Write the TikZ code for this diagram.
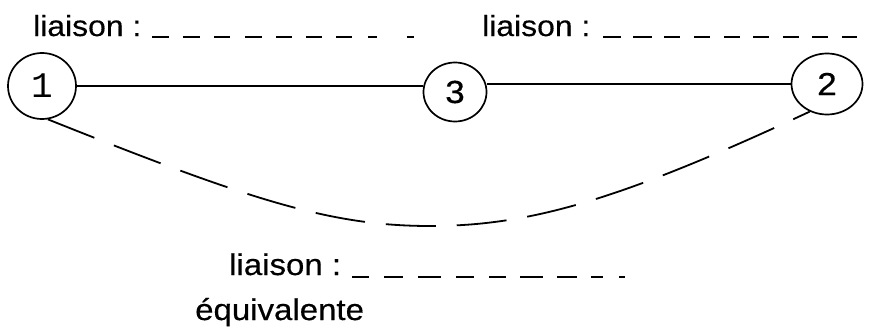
\documentclass[tikz,border=0pt]{standalone}
\usepackage{fontspec}
\setmainfont{Liberation Sans}[FakeStretch=1.1,FakeBold=0.4]
\newfontfamily\monodigit{Liberation Mono}
\usetikzlibrary{shapes.geometric}
\begin{document}
\begin{tikzpicture}[x=1pt,y=-1pt,
  part/.style={ellipse,draw,line width=1.7pt,inner sep=0pt,font=\fontsize{32}{34}\selectfont},
  link/.style={line width=1.7pt},
  equiv/.style={line width=1.8pt,dash pattern=on 50pt off 21pt},
  toplab/.style={anchor=base west,inner sep=0pt,font=\fontsize{29}{31}\selectfont},
  botlab/.style={anchor=base west,inner sep=0pt,font=\fontsize{30}{32}\selectfont},
  blank/.style={line width=2pt}]
\useasboundingbox (0,0) rectangle (872,332);
% parts
\node[part,minimum width=68pt,minimum height=66pt] (n1) at (42,86) {\monodigit\fontsize{36}{38}\selectfont 1};
\node[part,minimum width=63pt,minimum height=59pt] (n3) at (455,92) {3};
\node[part,minimum width=71pt,minimum height=61pt] (n2) at (827,84) {2};
% links
\draw[link] (n1.east) -- (n1.east -| n3.west);
\draw[link] (n3.east |- n2.west) -- (n2.west);
\draw[equiv] (n1.-80) .. controls (250,200) and (330,226) .. (430,226)
                      .. controls (530,226) and (620,200) .. (n2.-122);
% labels
\node[toplab] (l1) at (33,36) {liaison :};
\node[toplab] (l2) at (482,36) {liaison :};
\node[botlab] (l3) at (229,275) {liaison :};
\node[botlab] (l4) at (195,320) {équivalente};
% blanks to fill
\foreach \a/\b in {152/169,183/200,214/230,245/262,276/292,306/322,336/352,368/377,407/414}
  \draw[blank] (\a,37) -- (\b,37);
\foreach \a/\b in {603/621,633/652,664/680,694/710,724/740,753/769,783/799,812/828,842/857}
  \draw[blank] (\a,37) -- (\b,37);
\foreach \a/\b in {352/369,384/403,418/441,456/474,489/506,520/543,557/577,591/603,619/625}
  \draw[blank] (\a,277) -- (\b,277);
\end{tikzpicture}
\end{document}
